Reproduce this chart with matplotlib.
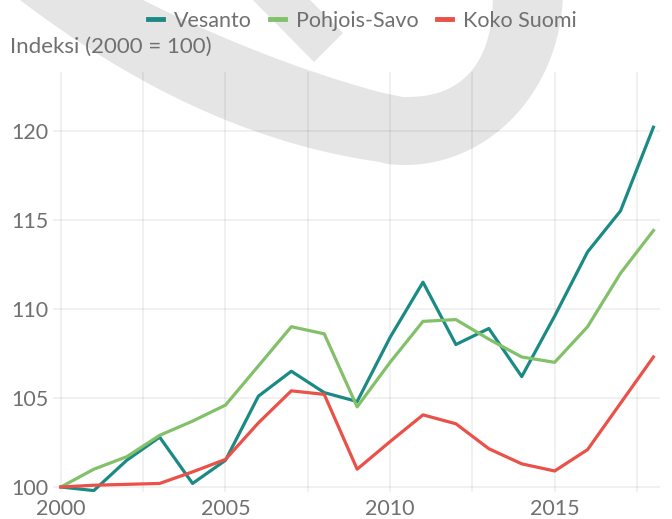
import numpy as np
import matplotlib
matplotlib.use("Agg")
import matplotlib.pyplot as plt
from matplotlib.patches import Polygon
from matplotlib.ticker import MultipleLocator

plt.rcParams['font.family'] = ['Lato', 'DejaVu Sans']

# data
years = list(range(2000, 2019))
vesanto = [100.0, 99.8, 101.5, 102.8, 100.2, 101.5, 105.1, 106.5, 105.3, 104.8,
           108.4, 111.5, 108.0, 108.9, 106.2, 109.6, 113.2, 115.5, 120.2]
pohjois_savo = [100.0, 101.0, 101.7, 102.9, 103.7, 104.6, 106.8, 109.0, 108.6, 104.5,
                107.0, 109.3, 109.4, 108.3, 107.3, 107.0, 109.0, 112.0, 114.4]
koko_suomi = [100.0, 100.1, 100.15, 100.2, 100.85, 101.55, 103.6, 105.4, 105.2, 101.0,
              102.55, 104.05, 103.55, 102.15, 101.3, 100.9, 102.1, 104.7, 107.3]
series = [("Vesanto", vesanto, "#1b8a84"),
          ("Pohjois-Savo", pohjois_savo, "#82c06a"),
          ("Koko Suomi", koko_suomi, "#ea5148")]

W, H = 672, 519
TXT = "#707070"
fig = plt.figure(figsize=(W / 100, H / 100), dpi=100)
fig.patch.set_facecolor("white")

# background watermark swoosh (pixel coords, y down)
def px(pts):
    pts = np.asarray(pts, float)
    return np.column_stack([pts[:, 0] / W, 1 - pts[:, 1] / H])

t = np.radians(np.linspace(-5, 97, 60))
outer = np.column_stack([405 + 158 * np.cos(t), -10 + 175 * np.sin(t)])
xl = np.linspace(380, 5, 40)
lower_left = np.column_stack([xl, 0.796 * (xl - 20) - 0.000865 * (xl ** 2 - 400)])
xu = np.linspace(120, 380, 30)
upper_left = np.column_stack([xu, 0.64 * (xu - 143) - 0.000479 * (xu ** 2 - 20449)])
ti = np.radians(np.linspace(90, -12, 50))
n = 2.5
ci, si = np.cos(ti), np.sin(ti)
inner = np.column_stack([403 + 90 * np.sign(ci) * np.abs(ci) ** (2 / n),
                         -10 + 107 * np.sign(si) * np.abs(si) ** (2 / n)])
band = np.vstack([[(566, -12)], outer, lower_left, [(0, -12)], upper_left, inner])
wedge = [(241, -12), (314, 62), (343, 33), (298, -12)]
for shp in (band, wedge):
    fig.patches.append(Polygon(px(shp), closed=True, transform=fig.transFigure,
                               facecolor="#e5e5e5", edgecolor="none", zorder=-10))

ax = fig.add_axes([53 / W, 1 - 492 / H, (660 - 53) / W, (492 - 72) / H])
ax.set_facecolor("none")

for name, vals, col in series:
    ax.plot(years, vals, color=col, lw=2.3, label=name)

ax.set_xlim(1999.76, 2018.2)
ax.set_ylim(99.72, 123.3)
ax.xaxis.set_major_locator(MultipleLocator(5))
ax.xaxis.set_minor_locator(MultipleLocator(2.5))
ax.yaxis.set_major_locator(MultipleLocator(5))
ax.grid(True, which="both", axis="x", color="black", alpha=0.07, lw=1.1)
ax.grid(True, which="major", axis="y", color="black", alpha=0.07, lw=1.1)
ax.set_axisbelow(True)
for s in ax.spines.values():
    s.set_visible(False)
ax.tick_params(which="both", length=0, labelsize=15.5, labelcolor=TXT)
ax.tick_params(axis="x", pad=5)
ax.tick_params(axis="y", pad=3)

fig.text(10 / W, 1 - 47 / H, "Indeksi (2000 = 100)", fontsize=16, color=TXT,
         va="center", ha="left")

leg = ax.legend(loc="center", bbox_to_anchor=(0.51, 1 + (72 - 21) / (492 - 72)),
                ncol=3, frameon=False, handlelength=0.7, handletextpad=0.5,
                columnspacing=0.85, fontsize=15.5)
for line in leg.get_lines():
    line.set_linewidth(3.5)
for txt in leg.get_texts():
    txt.set_color(TXT)

fig.savefig("out.png", dpi=100)
